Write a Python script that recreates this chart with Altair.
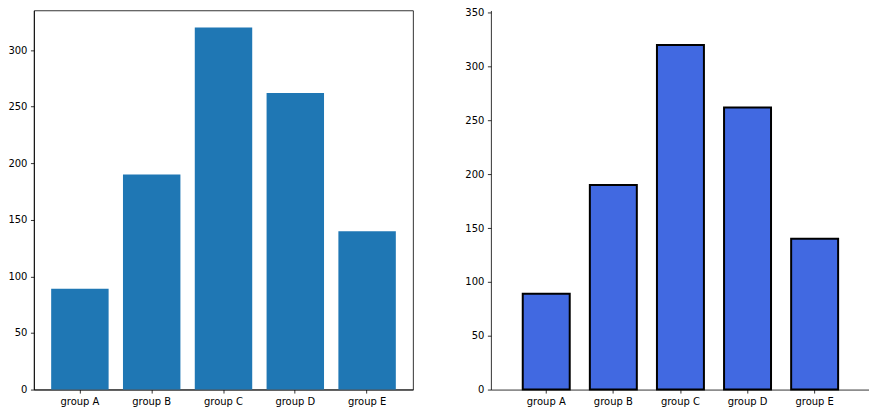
import altair as alt
import pandas as pd

groups = ["group A", "group B", "group C", "group D", "group E"]
values = [89, 190, 320, 262, 140]
left_ticks = [0, 50, 100, 150, 200, 250, 300]
right_ticks = [0, 50, 100, 150, 200, 250, 300, 350]

df = pd.DataFrame({"group": groups, "value": values})

axis_common = dict(
    labelFont="DejaVu Sans", labelFontSize=10, labelColor="black",
    tickColor="black", tickWidth=0.8, tickSize=3.5, labelPadding=3.5,
    domainColor="black", domainWidth=0.8, grid=False, title=None,
)

left = alt.Chart(df).mark_bar(color="#1f77b4").encode(
    x=alt.X("group:N", sort=groups,
            scale=alt.Scale(paddingInner=0.2, paddingOuter=0.24),
            axis=alt.Axis(labelAngle=0, **axis_common)),
    y=alt.Y("value:Q", scale=alt.Scale(domain=[0, 335], nice=False),
            axis=alt.Axis(values=left_ticks, **axis_common)),
).properties(width=380, height=380,
             view=alt.ViewBackground(stroke="black", strokeWidth=0.8))

right = alt.Chart(df).mark_bar(color="#4169e1", stroke="black", strokeWidth=2).encode(
    x=alt.X("group:N", sort=groups,
            scale=alt.Scale(paddingInner=0.3, paddingOuter=0.475),
            axis=alt.Axis(labelAngle=0, **axis_common)),
    y=alt.Y("value:Q", scale=alt.Scale(domain=[0, 352], nice=False),
            axis=alt.Axis(values=right_ticks, **axis_common)),
).properties(width=380, height=380)

chart = alt.hconcat(left, right, spacing=50).properties(
    padding={"left": -1, "top": -1, "right": -1, "bottom": -1}
).configure_view(strokeWidth=0)

chart.save("out.html", embed_options={"renderer": "svg", "actions": False})
